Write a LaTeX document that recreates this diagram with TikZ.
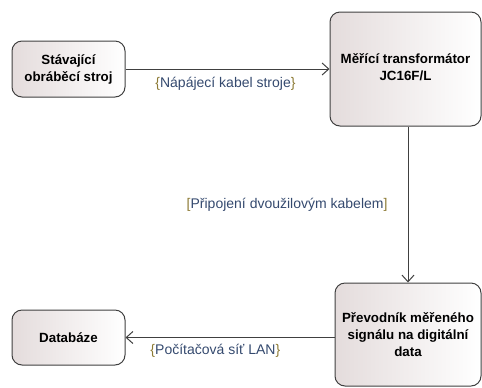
\documentclass[tikz,border=0pt]{standalone}
\usepackage{fontspec}
\setmainfont{Liberation Sans}
\usepackage{tikz}
\usetikzlibrary{positioning,arrows.meta}
\definecolor{linegray}{HTML}{404040}
\definecolor{boxfill}{HTML}{E4DCDC}
\definecolor{lbltext}{HTML}{34496E}
\definecolor{lblbrace}{HTML}{8C7A34}
\tikzstyle{block} = [rectangle, rounded corners=7.5pt, draw=linegray, line width=0.75pt, left color=boxfill, right color=white, align=center, font=\fontsize{10}{12.75}\selectfont\bfseries, inner sep=0pt]
\tikzstyle{arrow} = [draw=linegray, line width=0.75pt, -{Straight Barb[length=5pt,width=9pt]}]
\tikzstyle{lbl} = [text=lbltext, font=\fontsize{10.5}{12}\selectfont, inner sep=2pt]
\newcommand{\ob}{\textcolor{lblbrace}}

\begin{document}
\begin{tikzpicture}[x=0.75pt,y=-0.75pt]
	\clip (0,0) rectangle (482,387);
	\node (mach) [block, minimum width=84.75pt, minimum height=42pt] at (68.5,69) {Stávající\\obráběcí stroj};
	\node (trans) [block, minimum width=113.25pt, minimum height=85.5pt] at (405.5,69) {\raisebox{-8pt}{\begin{tabular}{@{}c@{}}Měřící transformátor\\JC16F/L\end{tabular}}};
	\node (conv) [block, minimum width=109.5pt, minimum height=77.25pt] at (408,334.5) {Převodník měřeného\\signálu na digitální\\data};
	\node (db) [block, minimum width=84.75pt, minimum height=41.25pt] at (68.5,337.5) {Databáze};
	\draw [arrow](mach) -- node[lbl, pos=0.49, below=4pt] {\ob{\{}Nápájecí kabel stroje\ob{\}}} (trans);
	\draw [arrow](conv.north |- trans.south) -- node[lbl, midway, left=13pt] {\ob{[}Připojení dvoužilovým kabelem\ob{]}} (conv.north);
	\draw [arrow](conv.west |- db.east) -- node[lbl, pos=0.57, below=3pt] {\ob{\{}Počítačová síť LAN\ob{\}}} (db.east);
\end{tikzpicture}
\end{document}
